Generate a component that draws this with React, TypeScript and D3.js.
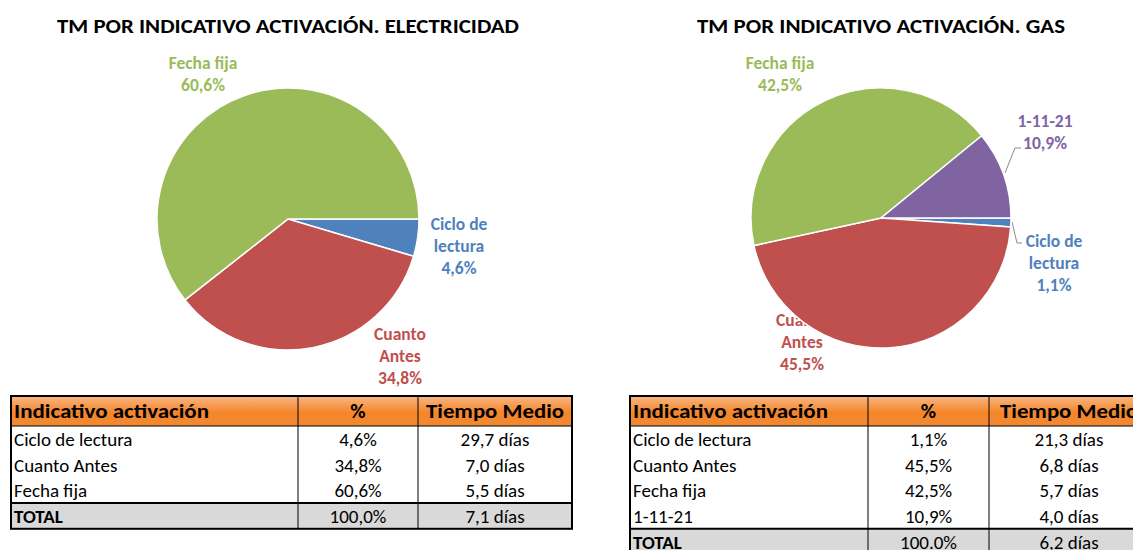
import React from "react";
import * as d3 from "d3";

const elecCategories = ["Ciclo de lectura", "Cuanto Antes", "Fecha fija"];
const elecPercent = [4.6, 34.8, 60.6];
const elecDays = [29.7, 7.0, 5.5];
const elecTotal = { pct: "100,0%", days: "7,1 días" };

const gasCategories = ["Ciclo de lectura", "Cuanto Antes", "Fecha fija", "1-11-21"];
const gasPercent = [1.1, 45.5, 42.5, 10.9];
const gasDays = [21.3, 6.8, 5.7, 4.0];
const gasTotal = { pct: "100.0%", days: "6,2 días" };

const tableHeaders = ["Indicativo activación", "%", "Tiempo Medio"];

const colorMap: Record<string, string> = {
  "Ciclo de lectura": "#4F81BD",
  "Cuanto Antes": "#C0504D",
  "Fecha fija": "#9BBB59",
  "1-11-21": "#8064A2",
};

const labelLines: Record<string, string[]> = {
  "Ciclo de lectura": ["Ciclo de", "lectura"],
  "Cuanto Antes": ["Cuanto", "Antes"],
  "Fecha fija": ["Fecha fija"],
  "1-11-21": ["1-11-21"],
};

const fmt = (v: number) => v.toFixed(1).replace(".", ",");
const FONT = "Carlito, Calibri, Lato, 'Open Sans', sans-serif";

type LabelPos = { dx: number; dy: number; leader?: [number, number][] };

function Pie({
  cx, cy, r, title, titleWidth, cats, vals, labelPos,
}: {
  cx: number; cy: number; r: number; title: string; titleWidth: number;
  cats: string[]; vals: number[]; labelPos: Record<string, LabelPos>;
}) {
  const pie = d3.pie<number>().sort(null).startAngle(Math.PI / 2).endAngle(Math.PI / 2 + 2 * Math.PI);
  const arcs = pie(vals);
  const arc = d3.arc<d3.PieArcDatum<number>>().innerRadius(0).outerRadius(r);
  return (
    <g>
      <text x={cx} y={28} textAnchor="middle" dominantBaseline="middle" fontFamily={FONT}
        fontWeight="bold" fontSize={19.5} fill="#000" textLength={titleWidth} lengthAdjust="spacingAndGlyphs">
        {title}
      </text>
      {cats.map((c, i) => {
        const p = labelPos[c];
        const lines = [...labelLines[c], fmt(vals[i]) + "%"];
        return (
          <g key={c}>
            {p.leader && (
              <polyline points={p.leader.map(([x, y]) => `${cx + x},${cy + y}`).join(" ")}
                fill="none" stroke="#8c8c8c" strokeWidth={1} />
            )}
            {lines.map((t, j) => (
              <text key={j} x={cx + p.dx} y={cy + p.dy + 2 + j * 22} textAnchor="middle"
                dominantBaseline="middle" fontFamily={FONT} fontWeight="bold" fontSize={17.5}
                fill={colorMap[c]}>
                {t}
              </text>
            ))}
          </g>
        );
      })}
      <g transform={`translate(${cx},${cy})`}>
        {arcs.map((a, i) => (
          <path key={i} d={arc(a) || ""} fill={colorMap[cats[i]]} stroke="#fff" strokeWidth={1.5} />
        ))}
      </g>
    </g>
  );
}

function Table({
  x, y, colX, cats, vals, days, total, gradId,
}: {
  x: number; y: number; colX: number[]; cats: string[]; vals: number[]; days: number[];
  total: { pct: string; days: string }; gradId: string;
}) {
  const headH = 30;
  const rowH = 25.7;
  const fs = 19;
  const [x0, x1, x2, x3] = colX;
  const n = cats.length;
  const totalY = y + headH + n * rowH;
  const bottom = totalY + rowH;
  const c1 = (x1 + x2) / 2;
  const c2 = (x2 + x3) / 2;
  const off = 2.5;
  const rows = cats.map((c, i) => ({ c, v: fmt(vals[i]) + "%", d: fmt(days[i]) + " días" }));
  return (
    <g>
      <rect x={x0} y={y} width={x3 - x0} height={headH} fill={`url(#${gradId})`} />
      <rect x={x0} y={totalY} width={x3 - x0} height={rowH} fill="#d9d9d9" />
      <text x={x0 + 3} y={y + headH / 2 + 2} dominantBaseline="middle" fontFamily={FONT}
        fontWeight="bold" fontSize={21} textLength={195} lengthAdjust="spacingAndGlyphs">{tableHeaders[0]}</text>
      <text x={c1} y={y + headH / 2 + 2} dominantBaseline="middle" textAnchor="middle" fontFamily={FONT}
        fontWeight="bold" fontSize={21}>{tableHeaders[1]}</text>
      <text x={c2} y={y + headH / 2 + 2} dominantBaseline="middle" textAnchor="middle" fontFamily={FONT}
        fontWeight="bold" fontSize={21} textLength={138} lengthAdjust="spacingAndGlyphs">{tableHeaders[2]}</text>
      {rows.map((r, i) => {
        const ry = y + headH + i * rowH + rowH / 2 + off;
        return (
          <g key={i}>
            <text x={x0 + 3} y={ry} dominantBaseline="middle" fontFamily={FONT} fontSize={fs}>{r.c}</text>
            <text x={c1} y={ry} dominantBaseline="middle" textAnchor="middle" fontFamily={FONT} fontSize={fs}>{r.v}</text>
            <text x={c2} y={ry} dominantBaseline="middle" textAnchor="middle" fontFamily={FONT} fontSize={fs}>{r.d}</text>
          </g>
        );
      })}
      <text x={x0 + 3} y={totalY + rowH / 2 + off} dominantBaseline="middle" fontFamily={FONT}
        fontWeight="bold" fontSize={fs}>TOTAL</text>
      <text x={c1} y={totalY + rowH / 2 + off} dominantBaseline="middle" textAnchor="middle" fontFamily={FONT}
        fontSize={fs}>{total.pct}</text>
      <text x={c2} y={totalY + rowH / 2 + off} dominantBaseline="middle" textAnchor="middle" fontFamily={FONT}
        fontSize={fs}>{total.days}</text>
      <line x1={x0} x2={x3} y1={y + headH} y2={y + headH} stroke="#000" strokeWidth={1} />
      <line x1={x0} x2={x3} y1={totalY} y2={totalY} stroke="#000" strokeWidth={2} />
      <line x1={x1} x2={x1} y1={y} y2={bottom} stroke="#000" strokeWidth={1} />
      <line x1={x2} x2={x2} y1={y} y2={bottom} stroke="#000" strokeWidth={1} />
      <rect x={x0} y={y} width={x3 - x0} height={bottom - y} fill="none" stroke="#000" strokeWidth={2} />
    </g>
  );
}

export default function App() {
  return (
    <svg width={1133} height={550} style={{ position: "absolute", left: 0, top: 0, background: "#fff" }}>
      <defs>
        {["gA", "gB"].map((id) => (
          <linearGradient key={id} id={id} x1="0" y1="0" x2="0" y2="1">
            <stop offset="0" stopColor="#f9b884" />
            <stop offset="0.55" stopColor="#f5852a" />
            <stop offset="1" stopColor="#f08a34" />
          </linearGradient>
        ))}
      </defs>
      <rect width={1133} height={550} fill="#fff" />
      <Pie cx={288} cy={219} r={131} title="TM POR INDICATIVO ACTIVACIÓN. ELECTRICIDAD" titleWidth={462}
        cats={elecCategories} vals={elecPercent}
        labelPos={{
          "Ciclo de lectura": { dx: 171, dy: 5 },
          "Cuanto Antes": { dx: 112, dy: 115 },
          "Fecha fija": { dx: -85, dy: -156 },
        }} />
      <Pie cx={881} cy={218} r={130} title="TM POR INDICATIVO ACTIVACIÓN. GAS" titleWidth={368}
        cats={gasCategories} vals={gasPercent}
        labelPos={{
          "Ciclo de lectura": { dx: 173, dy: 23, leader: [[131, 4], [136, 25], [141, 25]] },
          "Cuanto Antes": { dx: -79, dy: 102 },
          "Fecha fija": { dx: -101, dy: -155 },
          "1-11-21": { dx: 164, dy: -97, leader: [[124, -45], [134, -70], [140, -70]] },
        }} />
      <Table x={11} y={396} colX={[11, 298, 418, 572]} cats={elecCategories} vals={elecPercent}
        days={elecDays} total={elecTotal} gradId="gA" />
      <Table x={630} y={396} colX={[630, 868, 989, 1149]} cats={gasCategories} vals={gasPercent}
        days={gasDays} total={gasTotal} gradId="gB" />
    </svg>
  );
}
